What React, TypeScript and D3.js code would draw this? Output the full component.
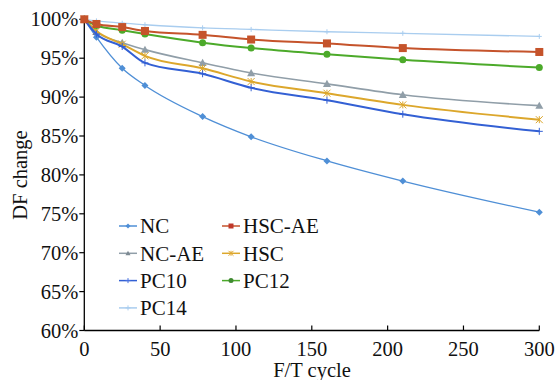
import React from "react";
import * as d3 from "d3";

const cycles = [0, 8, 25, 40, 78, 110, 160, 210, 300];
const seriesNames = ["NC", "HSC-AE", "NC-AE", "HSC", "PC10", "PC12", "PC14"];
const ncValues = [100, 97.7, 93.7, 91.5, 87.5, 84.9, 81.8, 79.2, 75.2];
const hscAeValues = [100, 99.4, 99.0, 98.5, 98.0, 97.4, 96.9, 96.3, 95.8];
const ncAeValues = [100, 98.4, 97.0, 96.1, 94.4, 93.1, 91.7, 90.3, 88.9];
const hscValues = [100, 98.5, 96.8, 95.3, 93.7, 92.0, 90.5, 89.0, 87.1];
const pc10Values = [100, 98.1, 96.5, 94.4, 93.0, 91.2, 89.6, 87.8, 85.6];
const pc12Values = [100, 99.2, 98.6, 98.1, 97.0, 96.3, 95.5, 94.8, 93.8];
const pc14Values = [100, 99.8, 99.5, 99.3, 98.9, 98.7, 98.4, 98.2, 97.8];
const xTicks = [0, 50, 100, 150, 200, 250, 300];
const yTicks = [60, 65, 70, 75, 80, 85, 90, 95, 100];

const valuesByName: Record<string, number[]> = {
  NC: ncValues,
  "HSC-AE": hscAeValues,
  "NC-AE": ncAeValues,
  HSC: hscValues,
  PC10: pc10Values,
  PC12: pc12Values,
  PC14: pc14Values,
};

const styles: Record<string, { color: string; width: number; marker: string; size: number }> = {
  NC: { color: "#4f8fd6", width: 1.3, marker: "diamond", size: 3.5 },
  "HSC-AE": { color: "#c5532b", width: 2, marker: "square", size: 4 },
  "NC-AE": { color: "#909ea8", width: 1.6, marker: "triangle", size: 4 },
  HSC: { color: "#dca72c", width: 2, marker: "cross", size: 3.5 },
  PC10: { color: "#3360d4", width: 2, marker: "plus", size: 3.5 },
  PC12: { color: "#4caa2a", width: 2, marker: "circle", size: 3.5 },
  PC14: { color: "#a9cdef", width: 1.3, marker: "plus", size: 2.5 },
};

const legendMarkerColor: Record<string, string> = {
  NC: "#4f8fd6",
  "HSC-AE": "#c0392b",
  "NC-AE": "#7d8a93",
  HSC: "#e0a830",
  PC10: "#4a72e0",
  PC12: "#3f8a30",
  PC14: "#a9cdef",
};

const legendOrder = [
  ["NC", "HSC-AE"],
  ["NC-AE", "HSC"],
  ["PC10", "PC12"],
  ["PC14", null],
];

function Marker({ type, x, y, size, color }: { type: string; x: number; y: number; size: number; color: string }) {
  if (type === "square") return <rect x={x - size} y={y - size} width={size * 2} height={size * 2} fill={color} />;
  if (type === "circle") return <circle cx={x} cy={y} r={size} fill={color} />;
  if (type === "diamond")
    return <path d={`M${x},${y - size}L${x + size},${y}L${x},${y + size}L${x - size},${y}Z`} fill={color} />;
  if (type === "triangle")
    return <path d={`M${x},${y - size}L${x + size},${y + size * 0.8}L${x - size},${y + size * 0.8}Z`} fill={color} />;
  if (type === "cross")
    return (
      <path
        d={`M${x - size},${y - size}L${x + size},${y + size}M${x - size},${y + size}L${x + size},${y - size}M${x},${y - size}L${x},${y + size}`}
        stroke={color}
        strokeWidth={1}
        fill="none"
      />
    );
  return (
    <path
      d={`M${x - size},${y}L${x + size},${y}M${x},${y - size}L${x},${y + size}`}
      stroke={color}
      strokeWidth={1}
      fill="none"
    />
  );
}

const FONT = '"Liberation Serif", "DejaVu Serif", "Times New Roman", serif';

export default function App() {
  const width = 558;
  const height = 380;
  const x = d3.scaleLinear().domain([0, 300]).range([84.3, 539.3]);
  const y = d3.scaleLinear().domain([60, 100]).range([330.5, 19.3]);
  const line = d3
    .line<[number, number]>()
    .x((d) => x(d[0]))
    .y((d) => y(d[1]))
    .curve(d3.curveMonotoneX);
  const textStyle = { fontFamily: FONT };
  const drawOrder = ["PC14", "NC", "NC-AE", "HSC", "PC10", "PC12", "HSC-AE"];

  return (
    <svg
      width={width}
      height={height}
      style={{ position: "absolute", left: 0, top: 0, background: "#fff", fontFamily: FONT }}
    >
      {/* axes */}
      <line x1={x(0)} x2={x(0)} y1={y(100) - 1} y2={y(60)} stroke="#000" strokeWidth={1.3} />
      <line x1={x(0)} x2={x(300)} y1={y(60)} y2={y(60)} stroke="#000" strokeWidth={1.3} />
      {yTicks.map((t) => (
        <g key={"y" + t}>
          <line x1={x(0) - 5} x2={x(0)} y1={y(t)} y2={y(t)} stroke="#000" strokeWidth={1.2} />
          <text style={textStyle} x={x(0) - 6} y={y(t)} dy="0.35em" textAnchor="end" fontSize={20.5} fill="#111">
            {t}%
          </text>
        </g>
      ))}
      {xTicks.map((t) => (
        <g key={"x" + t}>
          <line x1={x(t)} x2={x(t)} y1={y(60)} y2={y(60) - 5} stroke="#000" strokeWidth={1.2} />
          <text style={textStyle} x={x(t)} y={y(60) + 25} textAnchor="middle" fontSize={20.5} fill="#111">
            {t}
          </text>
        </g>
      ))}
      <text style={textStyle} x={312} y={377} textAnchor="middle" fontSize={20.5} fill="#111">
        F/T cycle
      </text>
      <text
        style={textStyle}
        transform={`translate(27,175) rotate(-90)`}
        textAnchor="middle"
        fontSize={20.5}
        fill="#111"
      >
        DF change
      </text>

      {/* series */}
      {drawOrder.map((name) => {
        const vals = valuesByName[name];
        const pts: [number, number][] = cycles.map((c, i) => [c, vals[i]]);
        const st = styles[name];
        return (
          <g key={name}>
            <path d={line(pts) || ""} fill="none" stroke={st.color} strokeWidth={st.width} />
            {pts.map((p, i) => (
              <Marker key={i} type={st.marker} x={x(p[0])} y={y(p[1])} size={st.size} color={st.color} />
            ))}
          </g>
        );
      })}

      {/* legend */}
      {legendOrder.map((row, ri) =>
        row.map((name, ci) => {
          if (!name) return null;
          const st = styles[name];
          const lx = ci === 0 ? 119 : 222;
          const ly = 226 + ri * 27.3;
          return (
            <g key={name}>
              <line x1={lx} x2={lx + 18} y1={ly} y2={ly} stroke={st.color} strokeWidth={1.5} />
              <Marker type={st.marker} x={lx + 9} y={ly} size={2.5} color={legendMarkerColor[name]} />
              <text style={textStyle} x={lx + 21} y={ly} dy="0.35em" fontSize={21} fill="#111">
                {name}
              </text>
            </g>
          );
        })
      )}
    </svg>
  );
}
